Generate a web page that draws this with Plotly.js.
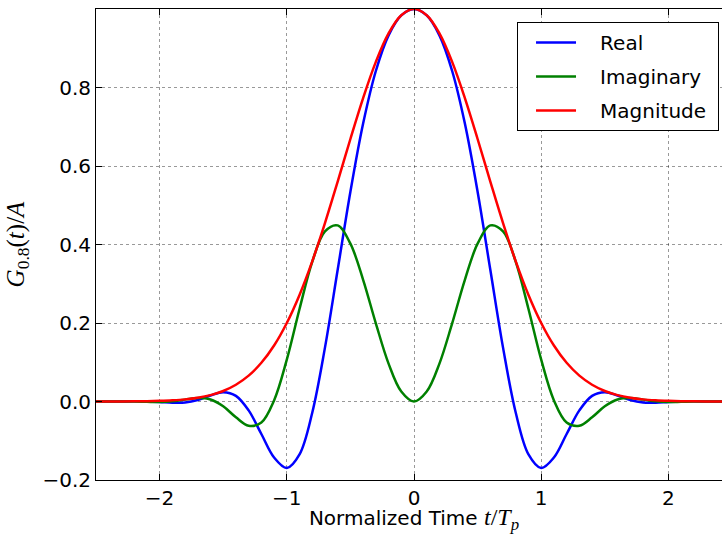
<!DOCTYPE html>
<html>
<head>
<meta charset="utf-8">
<script src="https://cdn.plot.ly/plotly-3.0.1.min.js"></script>
<style>
html,body{margin:0;padding:0;overflow:hidden;width:722px;height:534px;background:#fff}
#chart{width:732px;height:534px}
</style>
</head>
<body>
<div id="chart"></div>
<script>
const timeValues = [-2.5,-2.4,-2.3,-2.2,-2.1,-2.0,-1.9,-1.8,-1.7,-1.6,-1.5,-1.4,-1.3,-1.2,-1.1,-1.0,-0.9,-0.8,-0.7,-0.6,-0.5,-0.4,-0.3,-0.2,-0.1,0,
  0.1,0.2,0.3,0.4,0.5,0.6,0.7,0.8,0.9,1.0,1.1,1.2,1.3,1.4,1.5,1.6,1.7,1.8,1.9,2.0,2.1,2.2,2.3,2.4,2.5];
const realValues = [0.0000,-0.0001,0.0001,0.0004,0.0003,-0.0010,-0.0030,-0.0026,0.0037,0.0154,0.0238,0.0144,-0.0227,-0.0828,-0.1427,-0.1694,-0.1347,-0.0287,0.1372,0.3355,0.5344,0.7081,0.8420,0.9327,0.9837,1.0000,
  0.9837,0.9327,0.8420,0.7081,0.5344,0.3355,0.1372,-0.0287,-0.1347,-0.1694,-0.1427,-0.0828,-0.0227,0.0144,0.0238,0.0154,0.0037,-0.0026,-0.0030,-0.0010,0.0003,0.0004,0.0001,-0.0001,0.0000];
const imagValues = [0.0000,0.0001,0.0002,0.0000,-0.0008,-0.0013,0.0003,0.0048,0.0088,0.0051,-0.0123,-0.0402,-0.0619,-0.0535,0.0028,0.1066,0.2358,0.3559,0.4334,0.4487,0.4021,0.3101,0.1991,0.0966,0.0254,0.0000,
  0.0254,0.0966,0.1991,0.3101,0.4021,0.4487,0.4334,0.3559,0.2358,0.1066,0.0028,-0.0535,-0.0619,-0.0402,-0.0123,0.0051,0.0088,0.0048,0.0003,-0.0013,-0.0008,0.0000,0.0002,0.0001,0.0000];
const magValues = [0.0000,0.0001,0.0002,0.0004,0.0008,0.0016,0.0030,0.0054,0.0096,0.0163,0.0268,0.0427,0.0659,0.0986,0.1427,0.2001,0.2716,0.3571,0.4546,0.5603,0.6688,0.7730,0.8652,0.9377,0.9840,1.0000,
  0.9840,0.9377,0.8652,0.7730,0.6688,0.5603,0.4546,0.3571,0.2716,0.2001,0.1427,0.0986,0.0659,0.0427,0.0268,0.0163,0.0096,0.0054,0.0030,0.0016,0.0008,0.0004,0.0002,0.0001,0.0000];
const seriesNames = ['Real', 'Imaginary', 'Magnitude'];
const xTicks = [-2, -1, 0, 1, 2];
const yTicks = [-0.2, 0.0, 0.2, 0.4, 0.6, 0.8];

const colors = ['#0000ff', '#008000', '#ff0000'];
const ys = [realValues, imagValues, magValues];
const pad = '\u00a0\u00a0\u00a0';
const traces = ys.map((y, i) => ({
  x: timeValues, y: y, type: 'scatter', mode: 'lines', name: pad + seriesNames[i] + '\u00a0',
  legendgroup: 'g' + i,
  line: {color: colors[i], width: 2.5, shape: 'spline', smoothing: 1}
}));

const axisFont = {family: 'DejaVu Sans', size: 20, color: '#000'};
const layout = {
  width: 732, height: 534,
  margin: {l: 96, r: 0, t: 9, b: 54},
  paper_bgcolor: '#fff', plot_bgcolor: '#fff',
  showlegend: true,
  legend: {
    x: 0.9796, y: 0.9724, xanchor: 'right', yanchor: 'top',
    bgcolor: '#fff', bordercolor: '#000', borderwidth: 1,
    font: {family: 'DejaVu Sans', size: 20, color: '#000'},
    tracegroupgap: 5, itemwidth: 40, indentation: 13
  },
  xaxis: {
    range: [-2.5, 2.5], tickvals: xTicks, ticks: 'inside', ticklen: 6, tickcolor: '#000',
    showline: true, linecolor: '#000', linewidth: 1, mirror: 'allticks',
    showgrid: true, gridcolor: 'rgba(0,0,0,0.4)', griddash: 'dot', gridwidth: 1,
    zeroline: false, tickfont: axisFont,
    title: {text: 'Normalized Time <span style="font-family:Liberation Serif;font-size:24px"><i>t</i>/<i>T</i><sub><i>p</i></sub></span>',
            font: axisFont, standoff: 8}
  },
  yaxis: {
    range: [-0.2, 1.0], tickvals: yTicks, tickformat: '.1f', ticks: 'inside', ticklen: 6, tickcolor: '#000',
    showline: true, linecolor: '#000', linewidth: 1, mirror: 'allticks',
    showgrid: true, gridcolor: 'rgba(0,0,0,0.4)', griddash: 'dot', gridwidth: 1,
    zeroline: false, tickfont: axisFont,
    title: {text: '<i>G</i><sub>0.8</sub>(<i>t</i>)/<i>A</i>',
            font: {family: 'Liberation Serif', size: 25, color: '#000'}, standoff: 10}
  }
};
Plotly.newPlot('chart', traces, layout, {staticPlot: true, displayModeBar: false});
</script>
</body>
</html>
